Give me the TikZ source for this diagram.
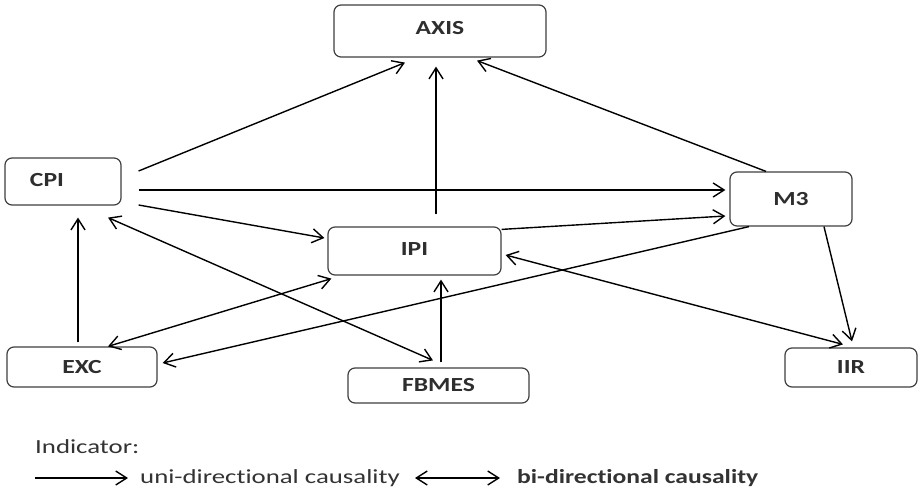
\documentclass[tikz,border=0pt]{standalone}
\usepackage{fontspec}
\setmainfont{Carlito}[Ligatures={NoCommon}]
\usetikzlibrary{arrows.meta}
\newcommand{\stretchtxt}[1]{\scalebox{1.28}[1]{#1}}
\newcommand{\stretchleg}[1]{\scalebox{1.34}[1]{#1}}
\begin{document}
\begin{tikzpicture}[x=1pt,y=-1pt,
  box/.style={draw=black!75, line width=1.2pt, rounded corners=7pt, inner sep=0pt, font=\fontsize{20}{24}\selectfont\bfseries, text=black!82},
  arr/.style={line width=1.4pt, -{Straight Barb[length=11pt,width=14pt,line width=1.4pt]}},
  biarr/.style={line width=1.4pt, {Straight Barb[length=11pt,width=14pt,line width=1.4pt]}-{Straight Barb[length=11pt,width=14pt,line width=1.4pt]}},
  legtext/.style={anchor=west, inner sep=0pt, font=\fontsize{20}{24}\selectfont, text=black!80}]
\useasboundingbox (0,0) rectangle (919,499);
\fill[white] (0,0) rectangle (919,499);

\node[box, minimum width=212pt, minimum height=52pt, text depth=7pt] (axis) at (440,31) {\stretchtxt{AXIS}};
\node[box, minimum width=116pt, minimum height=47pt, text width=66pt, align=left, inner xsep=25pt, text depth=3pt] (cpi) at (63,181.5) {\stretchtxt{CPI}};
\node[box, minimum width=122pt, minimum height=54pt] (m3) at (791,199) {\stretchtxt{M3}};
\node[box, minimum width=173pt, minimum height=48pt, text depth=3pt] (ipi) at (414.5,251) {\stretchtxt{IPI}};
\node[box, minimum width=150pt, minimum height=40pt] (exc) at (82,367) {\stretchtxt{EXC}};
\node[box, minimum width=181pt, minimum height=35pt] (fbmes) at (438.5,385.5) {\stretchtxt{FBMES}};
\node[box, minimum width=132pt, minimum height=39pt] (iir) at (851,367.5) {\stretchtxt{IIR}};

% connectors
\draw[arr] ([xshift=17pt,yshift=10.5pt]cpi.east) -- ([xshift=-35pt,yshift=-5pt]axis.south);
\draw[arr] ([xshift=21.5pt,yshift=12pt]ipi.north) -- ([xshift=-4pt,yshift=-9pt]axis.south);
\draw[arr] ([xshift=-25pt]m3.north) -- ([xshift=37pt,yshift=-3pt]axis.south);
\draw[arr] ([xshift=17pt,yshift=-8.5pt]cpi.east) -- ([xshift=-4pt,yshift=9pt]m3.west);
\draw[arr] ([xshift=17pt,yshift=-23.5pt]cpi.east) -- ([xshift=-3pt,yshift=13pt]ipi.west);
\draw[arr] ([yshift=-3pt]ipi.north east) -- ([xshift=-4pt,yshift=-17pt]m3.west);
\draw[arr] ([xshift=-4pt,yshift=4pt]exc.north) -- ([xshift=15pt,yshift=-12pt]cpi.south);
\draw[biarr] ([xshift=45pt,yshift=-12pt]cpi.south) -- ([xshift=-5.5pt,yshift=7pt]fbmes.north);
\draw[biarr] ([xshift=26pt]exc.north) -- ([xshift=4pt,yshift=-3pt]ipi.south west);
\draw[arr] ([xshift=-42pt]m3.south) -- ([xshift=5pt,yshift=4pt]exc.east);
\draw[arr] ([xshift=2.5pt,yshift=5pt]fbmes.north) -- ([xshift=26.5pt,yshift=-4pt]ipi.south);
\draw[arr] ([xshift=33pt]m3.south) -- ([xshift=1pt,yshift=6pt]iir.north);
\draw[biarr] ([xshift=4pt,yshift=-4pt]ipi.east) -- ([xshift=-8pt,yshift=3pt]iir.north);

% legend
\node[legtext] (ind) at (35,447) {\stretchleg{Indicator:}};
\coordinate (u1) at (35,478);
\coordinate (u2) at (128,478);
\draw[arr] (u1) -- (u2);
\node[legtext] (uni) at (140,478) {\stretchleg{uni-directional causality}};
\coordinate (b1) at (415,478);
\coordinate (b2) at (500,478);
\draw[biarr] (b1) -- (b2);
\node[legtext, font=\fontsize{20}{24}\selectfont\bfseries] (bi) at (517,478) {\stretchtxt{bi-directional causality}};
\end{tikzpicture}
\end{document}
